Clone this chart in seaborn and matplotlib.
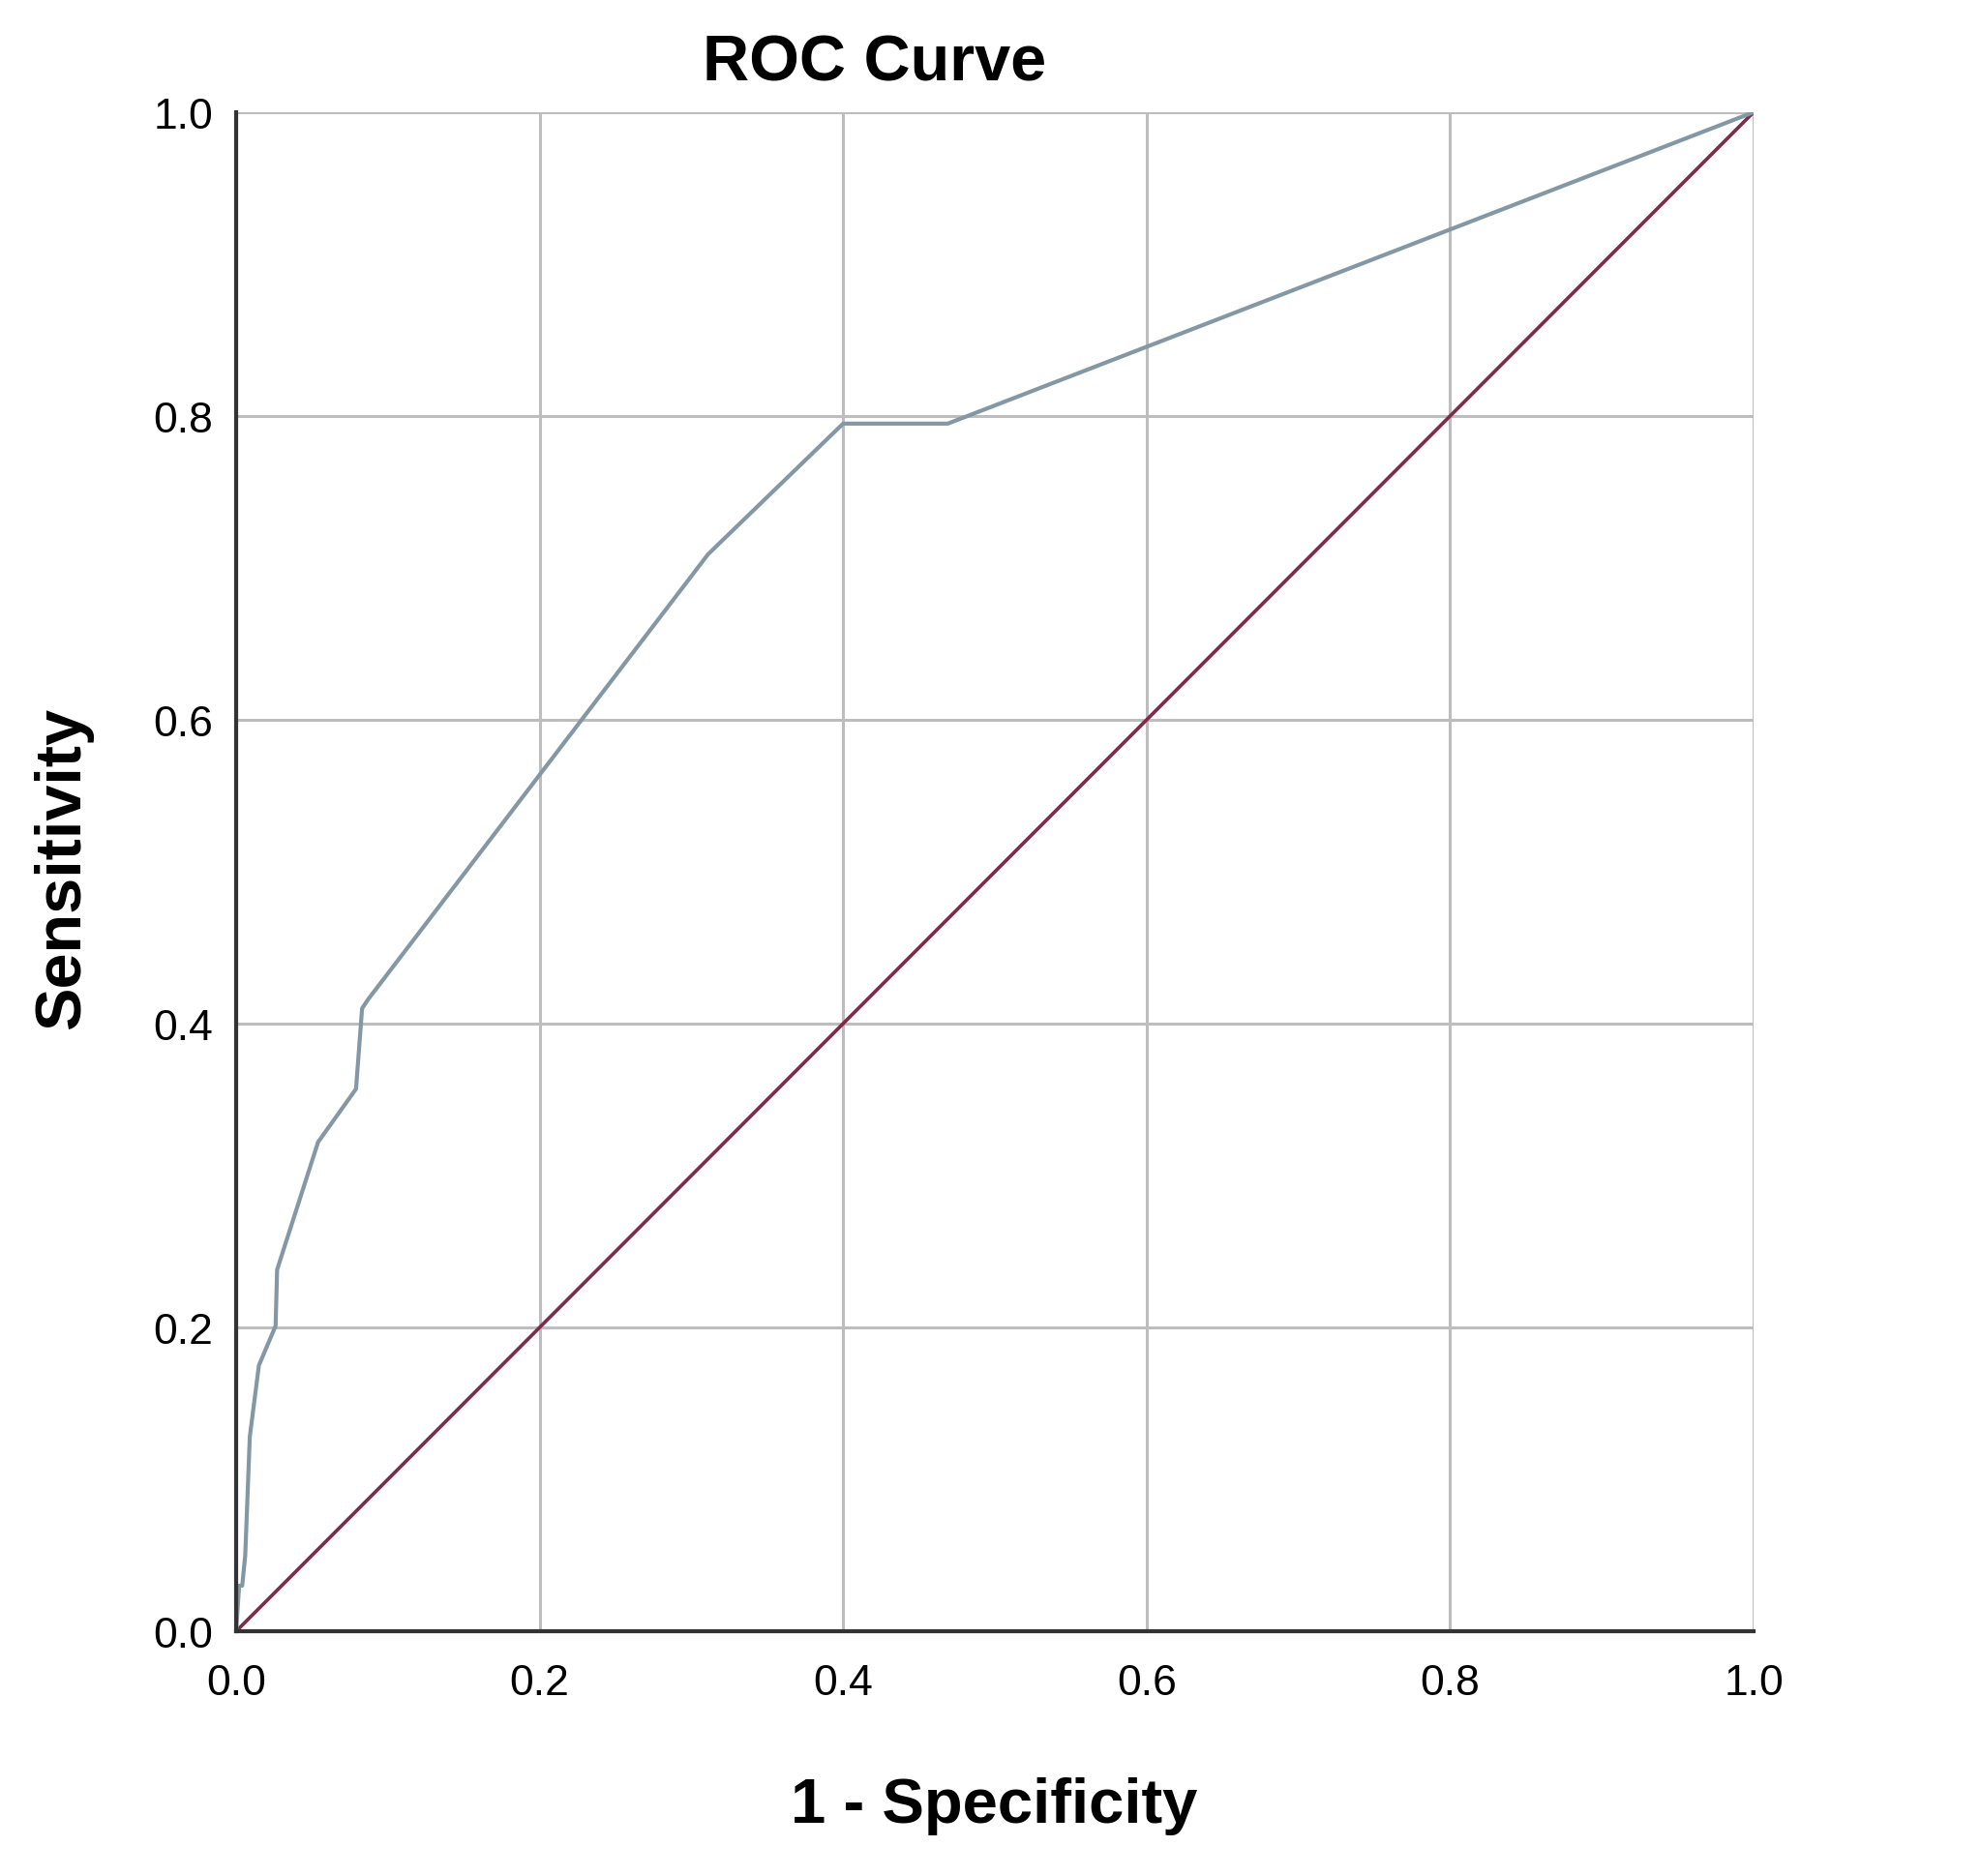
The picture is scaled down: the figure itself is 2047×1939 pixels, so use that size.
import matplotlib
matplotlib.use('Agg')
import matplotlib.pyplot as plt
import pandas as pd
import seaborn as sns

# ROC points
fpr = [0.0, 0.002, 0.004, 0.006, 0.009, 0.015, 0.026, 0.027, 0.054, 0.079,
       0.083, 0.087, 0.311, 0.400, 0.469, 1.0]
tpr = [0.0, 0.030, 0.030, 0.050, 0.128, 0.175, 0.201, 0.238, 0.322, 0.357,
       0.410, 0.416, 0.709, 0.795, 0.795, 1.0]
ref_x = [0.0, 1.0]
ref_y = [0.0, 1.0]
ticks = [0.0, 0.2, 0.4, 0.6, 0.8, 1.0]

df_roc = pd.DataFrame({'fpr': fpr, 'tpr': tpr})
df_ref = pd.DataFrame({'x': ref_x, 'y': ref_y})

sns.set_style('white')
plt.rcParams['font.family'] = ['Liberation Sans', 'DejaVu Sans']
plt.rcParams['text.color'] = 'black'

fig = plt.figure(figsize=(20.47, 19.40), dpi=100)
ax = fig.add_axes([0.1192, 0.1304, 0.766, 0.8093])

ax.grid(True, color='#bdbdbd', linewidth=2.2)
ax.set_axisbelow(True)

sns.lineplot(data=df_ref, x='x', y='y', color='#7e2a48', linewidth=2.6,
             sort=False, estimator=None, ax=ax)
sns.lineplot(data=df_roc, x='fpr', y='tpr', color='#8497a4', linewidth=3.0,
             sort=False, estimator=None, ax=ax)

ax.set_xlim(0, 1)
ax.set_ylim(0, 1)
ax.set_xticks(ticks)
ax.set_yticks(ticks)
ax.set_xticklabels([f'{t:.1f}' for t in ticks])
ax.set_yticklabels([f'{t:.1f}' for t in ticks])
ax.tick_params(axis='x', length=0, pad=24, labelsize=32, labelcolor='black')
ax.tick_params(axis='y', length=0, pad=17, labelsize=32, labelcolor='black')

for side in ['top', 'right']:
    ax.spines[side].set_visible(False)
for side in ['left', 'bottom']:
    ax.spines[side].set_color('#333333')
    ax.spines[side].set_linewidth(3)

ax.set_xlabel('')
ax.set_ylabel('')
fig.text(0.5017, 1 - 1884 / 1940, '1 - Specificity', ha='center', va='baseline',
         fontsize=47, fontweight='bold')
fig.text(65 / 2047, 1 - 898 / 1940, 'Sensitivity', ha='center', va='center',
         rotation=90, fontsize=48, fontweight='bold')
fig.text(904 / 2047, 1 - 66 / 1940, 'ROC Curve', ha='center', va='center',
         fontsize=48, fontweight='bold')

fig.savefig('out.png', dpi=100, facecolor='white')
